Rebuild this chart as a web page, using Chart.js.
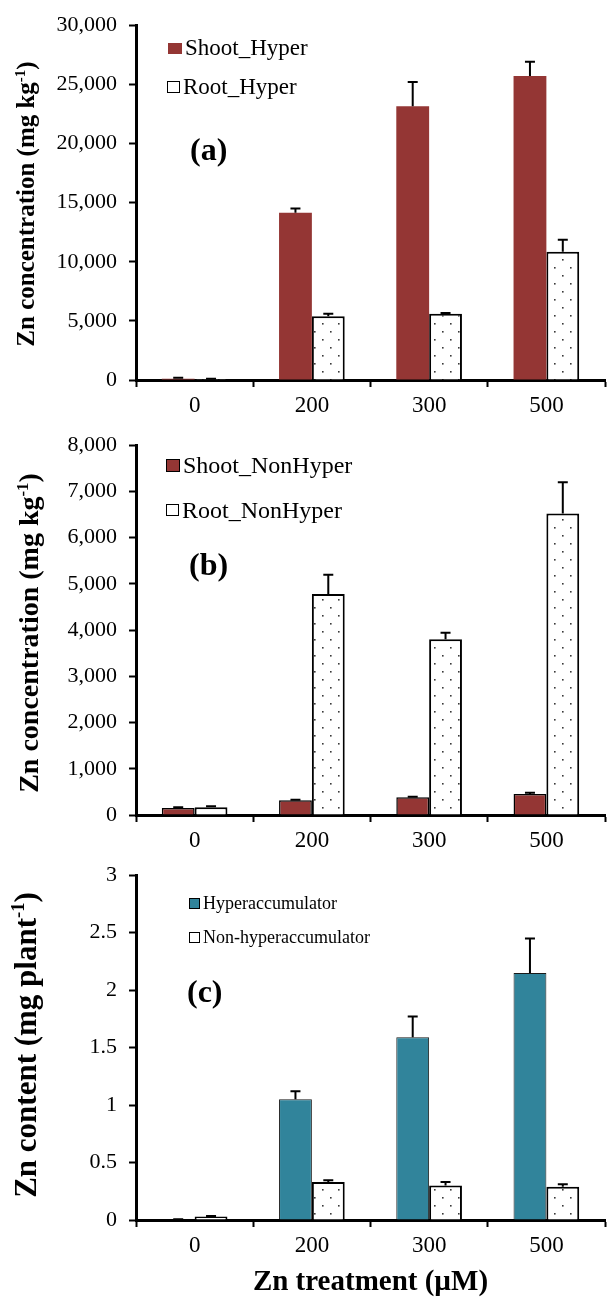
<!DOCTYPE html>
<html>
<head>
<meta charset="utf-8">
<script src="https://cdn.jsdelivr.net/npm/chart.js@4.4.1/dist/chart.umd.min.js"></script>
<style>
  html, body { margin:0; padding:0; background:#fff; }
  body { width:616px; height:1301px; position:relative; overflow:hidden; font-family:"Liberation Serif","Times New Roman",serif; color:#000; }
  .panel { position:absolute; left:0; width:616px; }
  .panel canvas { display:block; }
  .ytitle { position:absolute; white-space:nowrap; font-weight:bold; transform:translate(-50%,-50%) rotate(-90deg); line-height:1; }
  .ytitle sup { font-size:0.6em; vertical-align:0.6em; line-height:0; }
  .leg { position:absolute; white-space:nowrap; display:flex; align-items:center; }
  .sw { display:inline-block; box-sizing:border-box; margin-right:3px; }
  .plab { position:absolute; font-weight:bold; line-height:1; }
</style>
</head>
<body>

<div class="panel" id="pa" style="top:0;height:440px"><canvas id="ca" width="616" height="440"></canvas></div>
<div class="panel" id="pb" style="top:420px;height:440px"><canvas id="cb" width="616" height="440"></canvas></div>
<div class="panel" id="pc" style="top:850px;height:451px"><canvas id="cc" width="616" height="451"></canvas></div>

<div class="ytitle" style="left:25px;top:204px;font-size:25px">Zn concentration (mg kg<sup>-1</sup>)</div>
<div class="ytitle" style="left:29px;top:633px;font-size:28px">Zn concentration (mg kg<sup>-1</sup>)</div>
<div class="ytitle" style="left:25px;top:1045px;font-size:31px">Zn content (mg plant<sup>-1</sup>)</div>

<div class="leg" style="left:168px;top:34px;height:28px;font-size:23px"><span class="sw" style="width:14px;height:11px;background:#943634"></span>Shoot_Hyper</div>
<div class="leg" style="left:167px;top:73px;height:28px;font-size:23px"><span class="sw" style="width:13px;height:12px;background:#fff;border:1.5px solid #000"></span>Root_Hyper</div>
<div class="plab" style="left:190px;top:133px;font-size:32px">(a)</div>

<div class="leg" style="left:166px;top:451px;height:28px;font-size:24px"><span class="sw" style="width:14px;height:13px;background:#943634;border:1.5px solid #000"></span>Shoot_NonHyper</div>
<div class="leg" style="left:166px;top:496px;height:28px;font-size:24px"><span class="sw" style="width:13px;height:12px;background:#fff;border:1.5px solid #000"></span>Root_NonHyper</div>
<div class="plab" style="left:189px;top:548px;font-size:32px">(b)</div>

<div class="leg" style="left:189px;top:891px;height:24px;font-size:18px"><span class="sw" style="width:11px;height:11px;background:#31849B;border:1.5px solid #000"></span>Hyperaccumulator</div>
<div class="leg" style="left:189px;top:925px;height:24px;font-size:18px"><span class="sw" style="width:11px;height:11px;background:#fff;border:1.5px solid #000"></span>Non-hyperaccumulator</div>
<div class="plab" style="left:187px;top:975px;font-size:32px">(c)</div>

<script>
// ---------- DATA ----------
const treatments = ["0", "200", "300", "500"];

const shootHyper      = [100, 14150, 23150, 25700];
const shootHyperErr   = [80, 350, 2050, 1200];
const rootHyper       = [80, 5400, 5600, 10850];
const rootHyperErr    = [30, 200, 60, 1000];

const shootNonHyper    = [150, 320, 385, 455];
const shootNonHyperErr = [15, 10, 10, 25];
const rootNonHyper     = [165, 4780, 3800, 6520];
const rootNonHyperErr  = [25, 420, 140, 680];

const contentHyper     = [0.005, 1.05, 1.59, 2.15];
const contentHyperErr  = [0.002, 0.07, 0.18, 0.30];
const contentNon       = [0.03, 0.33, 0.30, 0.29];
const contentNonErr    = [0.005, 0.015, 0.03, 0.02];

const yTicksA = [0, 5000, 10000, 15000, 20000, 25000, 30000];
const yTicksB = [0, 1000, 2000, 3000, 4000, 5000, 6000, 7000, 8000];
const yTicksC = [0, 0.5, 1, 1.5, 2, 2.5, 3];

// ---------- STYLE ----------
const FONT = "'Liberation Serif', 'Times New Roman', serif";
const RED = "#943634";
const TEAL = "#31849B";

function dotPattern() {
  const c = document.createElement("canvas");
  c.width = 16; c.height = 16;
  const g = c.getContext("2d");
  g.fillStyle = "#fff"; g.fillRect(0, 0, 16, 16);
  g.fillStyle = "#3a3a3a";
  g.fillRect(2, 3, 1.6, 1.6);
  g.fillRect(10, 11, 1.6, 1.6);
  return g.createPattern(c, "repeat");
}
const DOTS = dotPattern();

const errorBars = {
  id: "errorBars",
  afterDatasetsDraw(chart) {
    const ctx = chart.ctx;
    const ys = chart.scales.y;
    chart.data.datasets.forEach((ds, di) => {
      const meta = chart.getDatasetMeta(di);
      meta.data.forEach((bar, i) => {
        const v = ds.data[i], e = ds.errors[i];
        const yTop = ys.getPixelForValue(v + e);
        const yV = ys.getPixelForValue(v);
        ctx.save();
        ctx.strokeStyle = "#000";
        ctx.lineWidth = 2;
        ctx.beginPath();
        ctx.moveTo(bar.x, yV);
        ctx.lineTo(bar.x, yTop);
        ctx.moveTo(bar.x - 5, yTop);
        ctx.lineTo(bar.x + 5, yTop);
        ctx.stroke();
        ctx.restore();
      });
    });
  }
};

function makeChart(id, datasets, yTicks, stepSize, fmt, padTop, xHeight, xTitle) {
  const ymin = yTicks[0], ymax = yTicks[yTicks.length - 1];
  return new Chart(document.getElementById(id), {
    type: "bar",
    data: { labels: treatments, datasets },
    plugins: [errorBars],
    options: {
      responsive: false,
      animation: false,
      events: [],
      layout: { padding: { left: 0, right: 11, top: padTop, bottom: 0 } },
      plugins: { legend: { display: false }, tooltip: { enabled: false } },
      datasets: { bar: { categoryPercentage: 0.56, barPercentage: 1.0 } },
      scales: {
        x: {
          offset: true,
          grid: { offset: true, drawOnChartArea: false, color: "#000", tickLength: 7, tickWidth: 2 },
          border: { color: "#000", width: 3 },
          ticks: { color: "#000", padding: 5, font: { family: FONT, size: 23 } },
          title: xTitle ? { display: true, text: xTitle, color: "#000", padding: { top: 0, bottom: 1 },
                            font: { family: FONT, size: 29, weight: "bold" } } : { display: false },
          afterFit(s) { s.height = xHeight; }
        },
        y: {
          min: ymin, max: ymax,
          grid: { drawOnChartArea: false, color: "#000", tickLength: 7, tickWidth: 2 },
          border: { color: "#000", width: 3 },
          ticks: { color: "#000", stepSize, padding: 12, font: { family: FONT, size: 22 }, callback: fmt },
          afterFit(s) { s.width = 136; }
        }
      }
    }
  });
}

const commaFmt = v => Number(v).toLocaleString("en-US");
const plainFmt = v => String(v);

makeChart("ca", [
  { label: "Shoot_Hyper", data: shootHyper, errors: shootHyperErr, backgroundColor: RED, borderWidth: 0 },
  { label: "Root_Hyper", data: rootHyper, errors: rootHyperErr, backgroundColor: DOTS, borderColor: "#000", borderWidth: 2 }
], yTicksA, 5000, commaFmt, 25, 60, null);

makeChart("cb", [
  { label: "Shoot_NonHyper", data: shootNonHyper, errors: shootNonHyperErr, backgroundColor: RED, borderColor: "#000", borderWidth: 1.5 },
  { label: "Root_NonHyper", data: rootNonHyper, errors: rootNonHyperErr, backgroundColor: DOTS, borderColor: "#000", borderWidth: 2 }
], yTicksB, 1000, commaFmt, 21, 45, null);

makeChart("cc", [
  { label: "Hyperaccumulator", data: contentHyper, errors: contentHyperErr, backgroundColor: TEAL, borderColor: "#1a1a1a", borderWidth: 1 },
  { label: "Non-hyperaccumulator", data: contentNon, errors: contentNonErr, backgroundColor: DOTS, borderColor: "#000", borderWidth: 2 }
], yTicksC, 0.5, plainFmt, 19, 81, "Zn treatment (\u00B5M)");
</script>
</body>
</html>
